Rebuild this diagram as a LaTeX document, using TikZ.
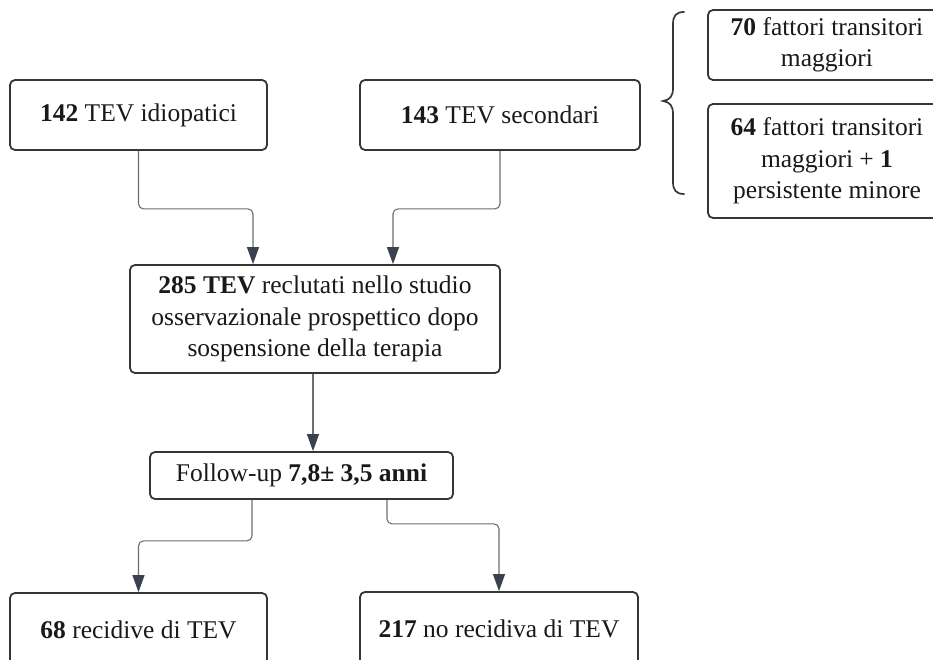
\documentclass[tikz,border=0pt]{standalone}
\usepackage{fontspec}
\setmainfont{Liberation Serif}
\usetikzlibrary{arrows.meta}
\definecolor{boxline}{HTML}{363636}
\definecolor{linkline}{HTML}{6E6E6E}
\definecolor{tipcol}{HTML}{3B414E}
\tikzset{
  flowbox/.style={draw=boxline, line width=1.8pt, rounded corners=5pt, fill=white,
    inner sep=0pt, align=center, text=black!90,
    font=\fontsize{25.5}{31.5}\selectfont},
  conn/.style={draw=linkline, line width=1.1pt, rounded corners=5pt,
    -{Triangle[width=12pt,length=17pt,color=tipcol]}},
  bracestroke/.style={draw=boxline, line width=1.7pt, line cap=round}
}
\begin{document}
\begin{tikzpicture}[x=1pt,y=-1pt]
\useasboundingbox (0,0) rectangle (933,660);
\fill[white] (0,0) rectangle (933,660);
\clip (0,0) rectangle (933,660);

% top row
\node[flowbox, minimum width=257pt, minimum height=70pt] (b142) at (138.5,115)
  {\textbf{142} TEV idiopatici};
\node[flowbox, minimum width=280pt, minimum height=70pt] (b143) at (500,115)
  {\textbf{143} TEV secondari};

% breakdown of the secondary events
\node[flowbox, minimum width=238pt, minimum height=70pt] (r70) at (827,45)
  {\textbf{70} fattori transitori\\maggiori};
\node[flowbox, minimum width=238pt, minimum height=114pt] (r64) at (827,161)
  {\textbf{64} fattori transitori\\maggiori + \textbf{1}\\persistente minore};
\draw[bracestroke] (684,12) .. controls (676,12) and (673,16) .. (673,24)
  -- (673,88) .. controls (673,96) and (670,100) .. (663,101)
  .. controls (670,102) and (673,106) .. (673,114)
  -- (673,182) .. controls (673,190) and (676,194) .. (684,194);

% enrolled cohort
\node[flowbox, minimum width=370pt, minimum height=108pt] (b285) at (315,319)
  {\textbf{285 TEV} reclutati nello studio\\osservazionale prospettico dopo\\sospensione della terapia};

% follow-up
\node[flowbox, minimum width=303pt, minimum height=47pt] (fu) at (301.5,475.5)
  {Follow-up \textbf{7,8± 3,5 anni}};

% outcomes
\node[flowbox, minimum width=257pt, minimum height=74pt] (b68) at (138.5,630)
  {\textbf{68} recidive di TEV};
\node[flowbox, minimum width=278pt, minimum height=74pt] (b217) at (499,629)
  {\textbf{217} no recidiva di TEV};

% connectors
\draw[conn] (b142.south) -- ++(0,58) -| ([xshift=-62pt]b285.north);
\draw[conn] (b143.south) -- ++(0,58) -| ([xshift=78pt]b285.north);
\draw[conn] ([xshift=-2pt]b285.south) -- ([xshift=-2pt]b285.south |- fu.north);
\draw[conn] ([xshift=-49.5pt]fu.south) -- ++(0,41) -| (b68.north);
\draw[conn] ([xshift=85.5pt]fu.south) -- ++(0,24) -| (b217.north);
\end{tikzpicture}
\end{document}
